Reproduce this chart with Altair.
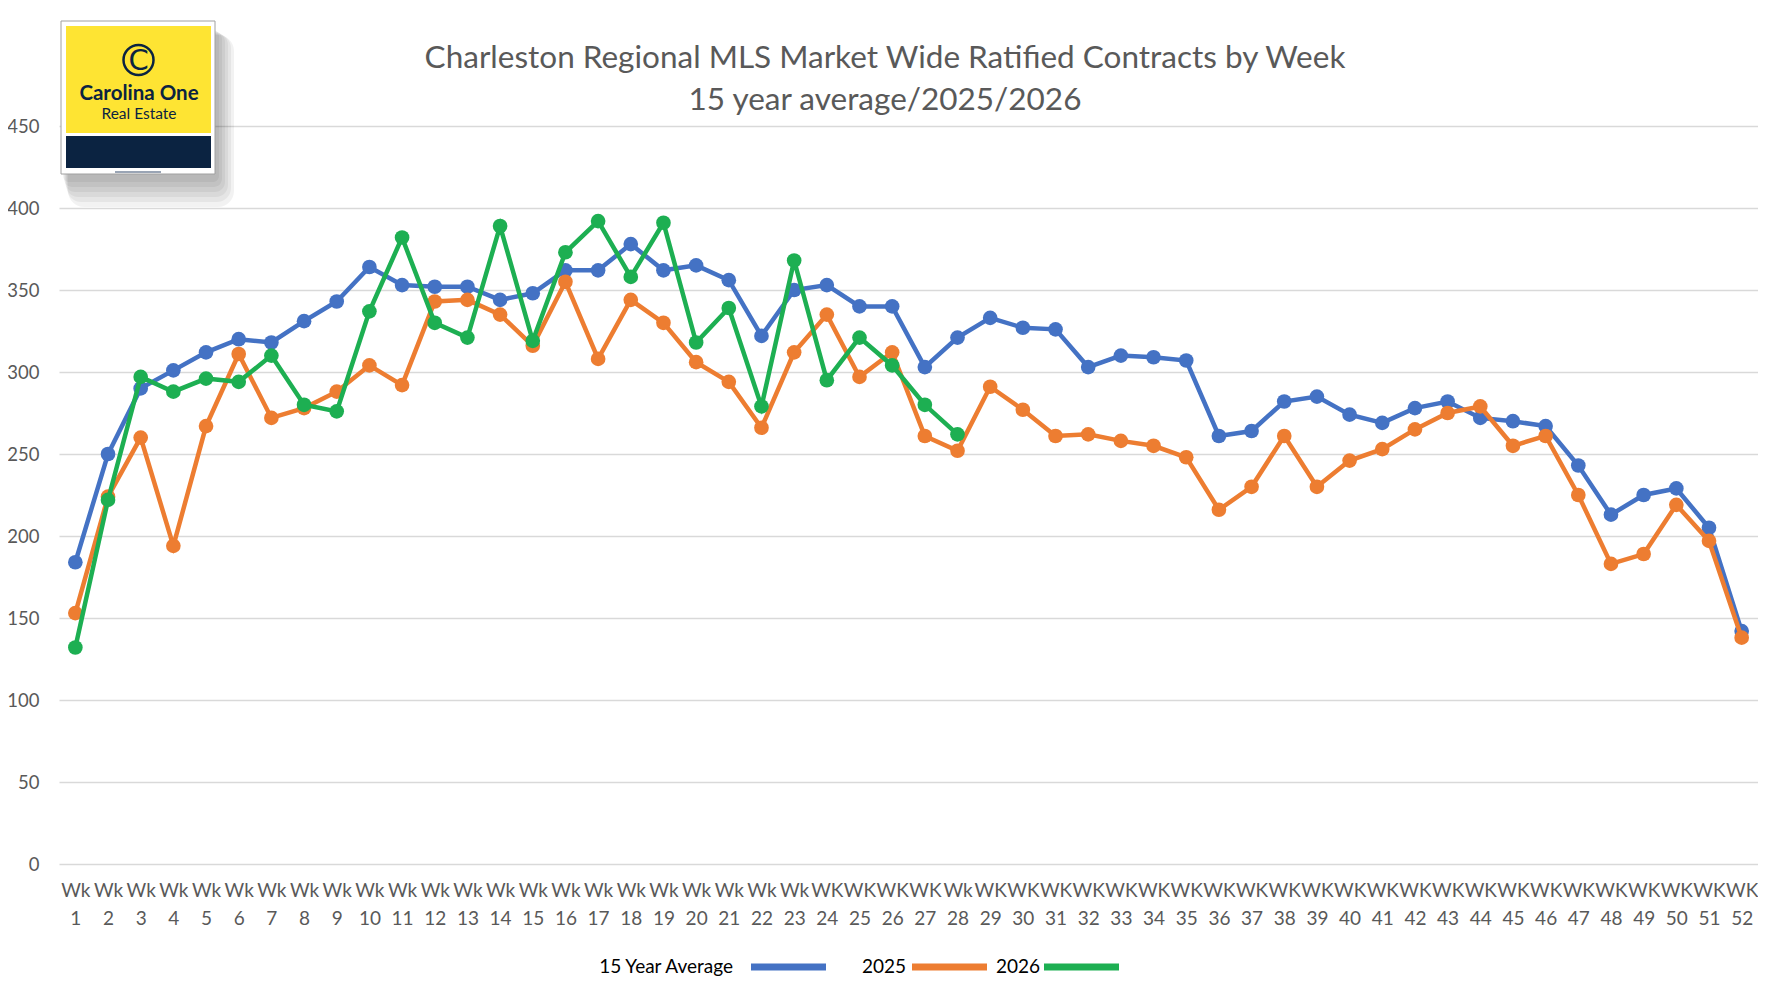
import altair as alt
import pandas as pd

# DATA ------------------------------------------------------------------------------------------------
weeks = list(range(1, 53))
week_prefix = ["WK" if (24 <= w <= 27 or w >= 29) else "Wk" for w in weeks]
week_labels = [f"{p} {w}" for p, w in zip(week_prefix, weeks)]

avg_15yr = [184, 250, 290, 301, 312, 320, 318, 331, 343, 364, 353, 352,
            352, 344, 348, 362, 362, 378, 362, 365, 356, 322, 350, 353, 340, 340,
            303, 321, 333, 327, 326, 303, 310, 309, 307, 261, 264, 282, 285,
            274, 269, 278, 282, 272, 270, 267, 243, 213, 225, 229, 205, 142]
y2025 = [153, 224, 260, 194, 267, 311, 272, 278, 288, 304, 292, 343,
         344, 335, 316, 355, 308, 344, 330, 306, 294, 266, 312, 335, 297, 312,
         261, 252, 291, 277, 261, 262, 258, 255, 248, 216, 230, 261, 230,
         246, 253, 265, 275, 279, 255, 261, 225, 183, 189, 219, 197, 138]
y2026 = [132, 222, 297, 288, 296, 294, 310, 280, 276, 337, 382, 330,
         321, 389, 319, 373, 392, 358, 391, 318, 339, 279, 368, 295, 321, 304,
         280, 262]

series_names = ["15 Year Average", "2025", "2026"]
series_colors = ["#4472C4", "#ED7D31", "#1DAF52"]
series_values = [avg_15yr, y2025, y2026]

title_lines = ["Charleston Regional MLS Market Wide Ratified Contracts by Week",
               "15 year average/2025/2026"]

rows = []
for name, vals in zip(series_names, series_values):
    for lab, v in zip(week_labels, vals):
        rows.append({"week": lab, "series": name, "value": v})
df = pd.DataFrame(rows)

FONT = "Lato"
GREY = "#595959"
NAVY = "#0B2341"

color = alt.Color("series:N", scale=alt.Scale(domain=series_names, range=series_colors),
                  legend=None)

x_enc = alt.X(
    "week:N", sort=week_labels, title=None,
    axis=alt.Axis(labelAngle=0, labelExpr="split(datum.label, ' ')", labelFontSize=19,
                  labelFont=FONT, labelColor=GREY, labelPadding=17, labelLineHeight=28,
                  labelOverlap=False, labelBound=False, labelFlush=False,
                  domain=False, ticks=False, grid=False),
)
y_enc = alt.Y(
    "value:Q", title=None, scale=alt.Scale(domain=[0, 450], nice=False),
    axis=alt.Axis(values=list(range(0, 451, 50)), labelFontSize=18.5, labelFont=FONT,
                  labelColor=GREY, labelPadding=20, domain=False, ticks=False,
                  gridColor="#D9D9D9", gridWidth=1.3),
)

base = alt.Chart(df).encode(x=x_enc, y=y_enc, color=color)

layers = []
for name in series_names:
    sub = base.transform_filter(alt.datum.series == name)
    layers.append(sub.mark_line(strokeWidth=4.5))
    layers.append(sub.mark_circle(size=215, opacity=1))

one = alt.Chart(pd.DataFrame({"k": [0]}))

# TITLE -----------------------------------------------------------------------------------------------
for line, ty in zip(title_lines, [-67, -25]):
    layers.append(one.mark_text(text=line, font=FONT, fontSize=31.5, color=GREY,
                                align="center", baseline="middle").encode(
        x=alt.value(826), y=alt.value(ty)))

# LEGEND (label left of swatch, Excel style) ---------------------------------------------------------
legend_pos = [(674, 692, 767), (847, 853, 928), (981, 985, 1060)]
for name, col, (tx, sx1, sx2) in zip(series_names, series_colors, legend_pos):
    layers.append(one.mark_text(text=name, font=FONT, fontSize=19, color="black",
                                align="right", baseline="middle").encode(
        x=alt.value(tx), y=alt.value(841)))
    layers.append(one.mark_rule(color=col, strokeWidth=7).encode(
        x=alt.value(sx1), x2=alt.value(sx2), y=alt.value(841)))

# LOGO (decoration) -----------------------------------------------------------------------------------
for i in range(6):
    layers.append(one.mark_rect(fill="#000000", opacity=0.05, cornerRadius=6 + 2 * i).encode(
        x=alt.value(4 + i), x2=alt.value(160 + 3 * i),
        y=alt.value(-96 + i), y2=alt.value(56 + 5 * i)))
layers.append(one.mark_rect(fill="white", stroke="#A0A0A0", strokeWidth=1).encode(
    x=alt.value(2), x2=alt.value(156), y=alt.value(-105), y2=alt.value(48)))
layers.append(one.mark_rect(fill="#FEE433").encode(
    x=alt.value(7), x2=alt.value(152), y=alt.value(-100), y2=alt.value(7)))
layers.append(one.mark_rect(fill=NAVY).encode(
    x=alt.value(7), x2=alt.value(152), y=alt.value(10), y2=alt.value(42)))
layers.append(one.mark_rect(fill="#9AA5B5").encode(
    x=alt.value(56), x2=alt.value(102), y=alt.value(45), y2=alt.value(47)))
layers.append(one.mark_point(shape="circle", filled=False, size=900, stroke=NAVY,
                             strokeWidth=2.5, opacity=1).encode(
    x=alt.value(79.5), y=alt.value(-66)))
layers.append(one.mark_text(text="C", font="DejaVu Sans", fontSize=29, color=NAVY,
                            baseline="middle", align="center").encode(
    x=alt.value(79.5), y=alt.value(-65)))
layers.append(one.mark_text(text="Carolina One", font=FONT, fontSize=20.5, fontWeight="bold",
                            color=NAVY, baseline="middle", align="center").encode(
    x=alt.value(80), y=alt.value(-32)))
layers.append(one.mark_text(text="Real Estate", font=FONT, fontSize=15.5, color=NAVY,
                            baseline="middle", align="center").encode(
    x=alt.value(80), y=alt.value(-12)))

chart = alt.layer(*layers).properties(
    width=1699, height=738,
    autosize="none",
    padding={"left": 51, "top": 118, "right": 0, "bottom": 113},
).configure_view(stroke=None)

chart.save("out.html", embed_options={"renderer": "svg", "actions": False})
